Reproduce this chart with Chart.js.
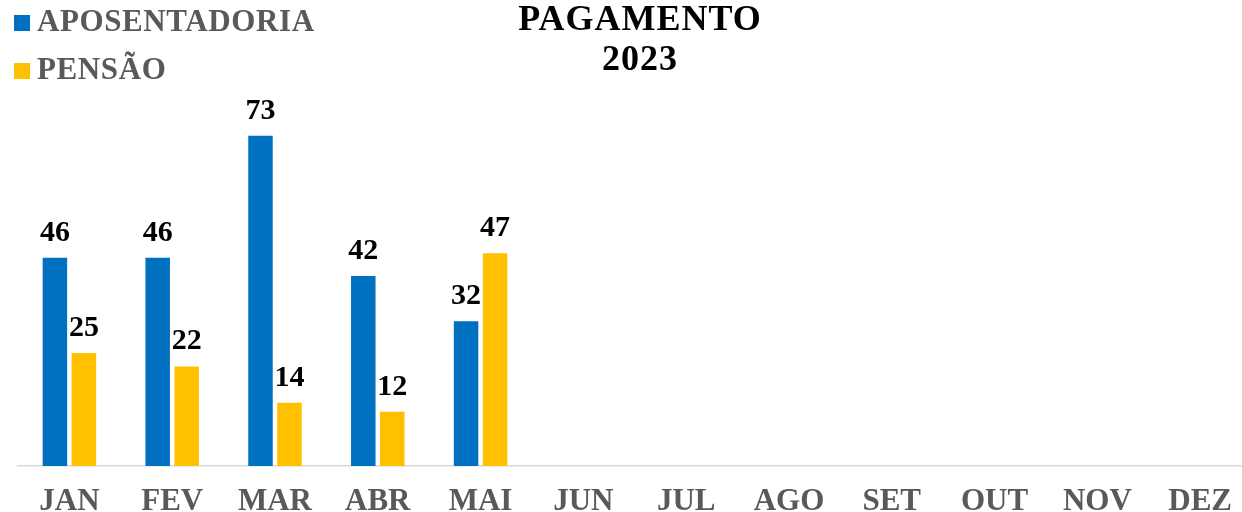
<!DOCTYPE html>
<html lang="pt">
<head>
<meta charset="UTF-8" />
<title>Pagamento 2023</title>
<script src="https://cdn.jsdelivr.net/npm/chart.js"></script>
<style>
  html, body { margin: 0; padding: 0; background: #fff; overflow: hidden; }
  #wrap { position: relative; width: 1252px; height: 512px; overflow: hidden; }
  #chart { position: absolute; left: 0; top: 0; }
  #title { position: absolute; left: 0; top: -2px; width: 1280px; text-align: center;
           font: bold 36px "Liberation Serif", "Times New Roman", serif; line-height: 40px;
           letter-spacing: 1px; color: #000; }
  #legend { position: absolute; left: 14px; top: 0; font: bold 31px "Liberation Serif", serif;
            color: #595959; letter-spacing: 0.6px; }
  .item { position: absolute; left: 0; white-space: nowrap; line-height: 48px; height: 48px; }
  .box { position: absolute; left: 0; width: 16px; height: 16px; }
  .lbl { position: absolute; left: 23px; top: 0; }
</style>
</head>
<body>
<div id="wrap">
  <canvas id="chart" width="1252" height="537"></canvas>
  <div id="title"></div>
  <div id="legend"></div>
</div>
<script>
  const months = ["JAN", "FEV", "MAR", "ABR", "MAI", "JUN", "JUL", "AGO", "SET", "OUT", "NOV", "DEZ"];
  const aposentadoria = [46, 46, 73, 42, 32, null, null, null, null, null, null, null];
  const pensao = [25, 22, 14, 12, 47, null, null, null, null, null, null, null];
  const seriesNames = ["APOSENTADORIA", "PENSÃO"];
  const seriesColors = ["#0070C0", "#FFC000"];
  const titleLines = ["PAGAMENTO", "2023"];

  document.getElementById("title").innerHTML = titleLines.join("<br>");

  const legend = document.getElementById("legend");
  seriesNames.forEach((name, i) => {
    const item = document.createElement("div");
    item.className = "item";
    item.style.top = (-3 + i * 48) + "px";
    item.innerHTML = '<span class="box" style="top:18px;background:' + seriesColors[i] + '"></span>' +
      '<span class="lbl">' + name + '</span>';
    legend.appendChild(item);
  });

  // value labels above each bar
  const barLabels = {
    id: "barLabels",
    afterDatasetsDraw(chart) {
      const ctx = chart.ctx;
      ctx.save();
      ctx.font = "bold 30px 'Liberation Serif', serif";
      ctx.fillStyle = "#000";
      ctx.textAlign = "center";
      ctx.textBaseline = "alphabetic";
      chart.data.datasets.forEach((ds, i) => {
        chart.getDatasetMeta(i).data.forEach((bar, j) => {
          const v = ds.data[j];
          if (v === null || v === undefined) return;
          ctx.fillText(String(v), bar.x, bar.y - 17);
        });
      });
      ctx.restore();
    }
  };

  new Chart(document.getElementById("chart"), {
    type: "bar",
    data: {
      labels: months,
      datasets: [
        { label: seriesNames[0], data: aposentadoria, backgroundColor: seriesColors[0] },
        { label: seriesNames[1], data: pensao, backgroundColor: seriesColors[1] }
      ]
    },
    options: {
      responsive: false,
      animation: false,
      categoryPercentage: 0.564,
      barPercentage: 0.845,
      layout: { padding: { left: 18, right: 0, top: 104, bottom: 0 } },
      plugins: {
        legend: { display: false },
        title: { display: false },
        tooltip: { enabled: false }
      },
      scales: {
        x: {
          grid: { display: false, drawTicks: false },
          border: { display: true, color: "#d9d9d9", width: 1.5 },
          ticks: {
            color: "#595959",
            padding: 20,
            font: { family: "'Liberation Serif', serif", size: 31, weight: "bold", lineHeight: 1 }
          }
        },
        y: {
          display: false,
          min: 0,
          max: 80
        }
      }
    },
    plugins: [barLabels]
  });
</script>
</body>
</html>
